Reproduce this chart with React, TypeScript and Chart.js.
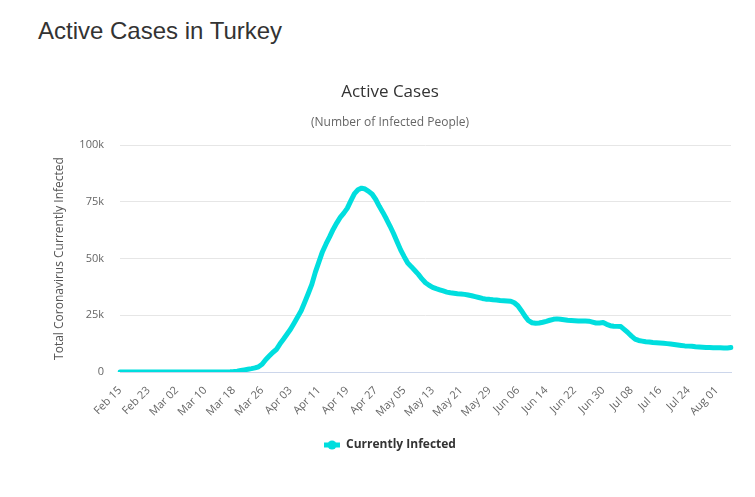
import React, { useEffect, useRef } from "react";
import { Chart, registerables } from "chart.js";

Chart.register(...registerables);

const FONT = '"Open Sans", "Noto Sans", sans-serif';
const LINE_COLOR = "#00dede";

const MONTHS = ["Jan", "Feb", "Mar", "Apr", "May", "Jun", "Jul", "Aug", "Sep", "Oct", "Nov", "Dec"];
const START_UTC = Date.UTC(2020, 1, 15);

const xTickLabels = [
  "Feb 15", "Feb 23", "Mar 02", "Mar 10", "Mar 18", "Mar 26", "Apr 03", "Apr 11",
  "Apr 19", "Apr 27", "May 05", "May 13", "May 21", "May 29", "Jun 06", "Jun 14",
  "Jun 22", "Jun 30", "Jul 08", "Jul 16", "Jul 24", "Aug 01",
];
const TICK_EVERY = 8;

const yTickValues = [0, 25000, 50000, 75000, 100000];
const yTickLabels = ["0", "25k", "50k", "75k", "100k"];

const activeCases = [
  0, 0, 0, 0, 0, 0, 0, 0, 0, 0,
  0, 0, 0, 0, 0, 0, 0, 0, 0, 0,
  0, 0, 0, 0, 0, 1, 1, 5, 6, 18,
  47, 98, 189, 356, 660, 930, 1200, 1480, 1800, 2300,
  3400, 5400, 7000, 8600, 9900, 12300, 14400, 16600, 18800, 21500,
  24200, 27000, 30700, 34600, 38600, 44000, 48500, 53000, 56400, 59500,
  62800, 65600, 68100, 70000, 72200, 75500, 78600, 80300, 81000, 80600,
  79600, 78300, 76000, 73000, 70300, 67400, 64300, 61000, 57400, 53800,
  50800, 48000, 46400, 44700, 43000, 41000, 39300, 38200, 37300, 36700,
  36200, 35700, 35200, 34900, 34700, 34500, 34400, 34200, 33900, 33600,
  33200, 32800, 32400, 32100, 32000, 31800, 31700, 31500, 31400, 31300,
  31200, 30500, 29200, 27000, 24600, 22600, 21700, 21500, 21600, 21900,
  22300, 22800, 23200, 23400, 23200, 23000, 22800, 22700, 22600, 22500,
  22500, 22500, 22400, 22000, 21600, 21600, 21800, 21000, 20400, 20200,
  20100, 20000, 18700, 17300, 15800, 14500, 13900, 13600, 13300, 13200,
  13000, 12900, 12800, 12700, 12500, 12300, 12100, 11900, 11700, 11500,
  11400, 11300, 11100, 11000, 10900, 10800, 10800, 10700, 10700, 10700,
  10600, 10600, 10800,
];

function dayLabel(i: number): string {
  const d = new Date(START_UTC + i * 86400000);
  const dd = String(d.getUTCDate()).padStart(2, "0");
  return MONTHS[d.getUTCMonth()] + " " + dd;
}

function makeLegendSymbol(): HTMLCanvasElement {
  const c = document.createElement("canvas");
  c.width = 16;
  c.height = 10;
  const ctx = c.getContext("2d")!;
  ctx.strokeStyle = LINE_COLOR;
  ctx.lineWidth = 5;
  ctx.beginPath();
  ctx.moveTo(0, 5);
  ctx.lineTo(16, 5);
  ctx.stroke();
  ctx.fillStyle = LINE_COLOR;
  ctx.beginPath();
  ctx.arc(8, 5, 4.5, 0, Math.PI * 2);
  ctx.fill();
  return c;
}

export default function App() {
  const canvasRef = useRef<HTMLCanvasElement | null>(null);

  useEffect(() => {
    if (!canvasRef.current) return;
    const labels = activeCases.map((_, i) => dayLabel(i));
    const chart = new Chart(canvasRef.current, {
      type: "line",
      data: {
        labels,
        datasets: [
          {
            label: "Currently Infected",
            data: activeCases,
            borderColor: LINE_COLOR,
            backgroundColor: LINE_COLOR,
            borderWidth: 5,
            pointRadius: 0,
            pointHoverRadius: 0,
            tension: 0,
            fill: false,
            borderJoinStyle: "round",
            borderCapStyle: "round",
          },
        ],
      },
      options: {
        responsive: false,
        animation: false,
        devicePixelRatio: 1,
        layout: { padding: { left: 41, right: 41, top: 0, bottom: 28 } },
        plugins: {
          title: {
            display: true,
            text: "Active Cases",
            color: "#333333",
            font: { family: FONT, size: 17, weight: "normal" },
            padding: { top: 22.4, bottom: 0 },
          },
          subtitle: {
            display: true,
            text: "(Number of Infected People)",
            color: "#666666",
            font: { family: FONT, size: 12, weight: "normal" },
            padding: { top: 12.5, bottom: 15.3 },
          },
          legend: {
            position: "bottom",
            labels: {
              usePointStyle: true,
              pointStyle: makeLegendSymbol(),
              pointStyleWidth: 16,
              color: "#333333",
              font: { family: FONT, size: 12, weight: "bold" },
              padding: 10,
            },
          },
          tooltip: { enabled: false },
        },
        scales: {
          x: {
            grid: { display: false },
            border: { color: "#ccd6eb", width: 1 },
            ticks: {
              autoSkip: false,
              minRotation: 45,
              maxRotation: 45,
              color: "#666666",
              font: { family: FONT, size: 11 },
              padding: 4,
              callback: (_v: any, i: number) =>
                i % TICK_EVERY === 0 ? xTickLabels[i / TICK_EVERY] : null,
            },
            afterFit: (s: any) => {
              s.height = 57;
            },
          },
          y: {
            min: 0,
            max: 100000,
            afterBuildTicks: (s: any) => {
              s.ticks = yTickValues.map((v) => ({ value: v }));
            },
            ticks: {
              color: "#666666",
              font: { family: FONT, size: 11 },
              padding: 16,
              callback: (v: any) => {
                const k = yTickValues.indexOf(Number(v));
                return k >= 0 ? yTickLabels[k] : "";
              },
            },
            grid: {
              drawTicks: false,
              color: (ctx: any) => (ctx.tick && ctx.tick.value === 0 ? "#ccd6eb" : "#e6e6e6"),
            },
            border: { display: false },
            title: {
              display: true,
              text: "Total Coronavirus Currently Infected",
              color: "#555555",
              font: { family: FONT, size: 12, weight: "normal" },
              padding: { top: 3.8, bottom: 0 },
            },
            afterFit: (s: any) => {
              s.width = 71;
            },
          },
        },
      },
    } as any);
    return () => chart.destroy();
  }, []);

  return (
    <div
      style={{
        position: "relative",
        width: 739,
        height: 481,
        overflow: "hidden",
        fontFamily: '"Liberation Sans", Arial, sans-serif',
      }}
    >
      <div
        style={{
          position: "absolute",
          left: 30,
          top: 11,
          fontSize: 24,
          lineHeight: "24px",
          color: "#333333",
          whiteSpace: "nowrap",
        }}
      >
        Active Cases in Turkey
      </div>
      <canvas
        ref={canvasRef}
        width={764}
        height={429}
        style={{ position: "absolute", left: 0, top: 52, width: 764, height: 429 }}
      />
    </div>
  );
}
